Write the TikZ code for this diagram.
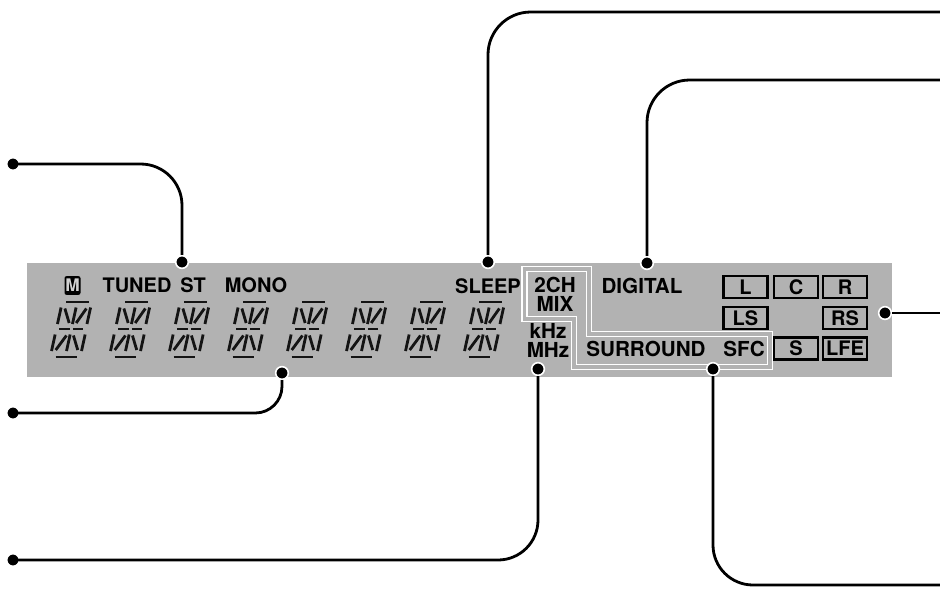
\documentclass[tikz,border=0pt]{standalone}
\usepackage{fontspec}
\setmainfont{TeX Gyre Heros}
\newcommand\dseg[4]{\draw[seg] ({\xo+#1+0.22*#2},{357-#2}) -- ({\xo+#3+0.22*#4},{357-#4});}
\begin{document}
\begin{tikzpicture}[x=0.75pt,y=-0.75pt,
  lbl/.style={font=\bfseries\fontsize{15}{15}\selectfont,inner sep=0pt,text=black},
  lblbig/.style={font=\bfseries\fontsize{15.5}{16}\selectfont,inner sep=0pt,text=black},
  chbox/.style={draw=black,line width=1.9pt,minimum width=33pt,minimum height=16.5pt,inner sep=0pt,
    font=\bfseries\fontsize{15}{15}\selectfont},
  seg/.style={line width=2.1pt,line cap=butt,draw=black!92},
  conn/.style={line width=2.1pt,draw=black},
  dot/.style={circle,fill=black,draw=white,line width=1.2pt,minimum size=9.5pt,inner sep=0pt},
  outline/.style={draw=white,line width=1.1pt,double=panelgray,double distance=2.4pt}
]
\definecolor{panelgray}{gray}{0.70}
\useasboundingbox (0,0) rectangle (940,601);
% panel
\fill[panelgray] (27,263) rectangle (892,377);
% white double outline
\draw[outline] (524.5,269) -- (589,269) -- (589,334) -- (770,334) -- (770,367)
  -- (574,367) -- (574,319) -- (524.5,319) -- cycle;
% digits (u across, v up from the bottom bar)
\foreach \i in {0,...,7}{
  \pgfmathsetmacro{\xo}{50.2+59*\i}
  \dseg{5.5}{0}{27}{0}
  \dseg{3.7}{55}{26.7}{55}
  \dseg{3}{28}{13.5}{28}
  \dseg{16.5}{28}{27}{28}
  \dseg{0}{6}{0}{22.5}
  \dseg{15}{6}{15}{22.5}
  \dseg{30}{6}{30}{22.5}
  \dseg{4}{7}{11.5}{21.5}
  \dseg{18.5}{21.5}{26}{7}
  \dseg{0}{33}{0}{49.5}
  \dseg{15}{33}{15}{49.5}
  \dseg{29.5}{33}{29.5}{49.5}
  \dseg{4}{48.5}{11.5}{34}
  \dseg{18.5}{34}{25.5}{48.5}
}
% labels
\node[fill=black,rounded corners=1.5pt,minimum width=12pt,minimum height=14pt,inner sep=0pt,
  text=panelgray!60,font=\bfseries\fontsize{13}{13}\selectfont] (m) at (72.5,285.5) {M};
\node[lbl] (tuned) at (137,285.5) {TUNED};
\node[lbl] (st) at (193,285.5) {ST};
\node[lbl] (mono) at (256,285.5) {MONO};
\node[lbl] (sleep) at (488,286) {SLEEP};
\node[lblbig] (ch2) at (555,284.5) {2CH};
\node[lblbig] (mix) at (555,303.5) {MIX};
\node[lblbig] (khz) at (548,331) {kHz};
\node[lblbig] (mhz) at (548,350) {MHz};
\node[lblbig] (digital) at (642,285.5) {DIGITAL};
\node[lblbig] (surround) at (646,349) {SURROUND};
\node[lblbig] (sfc) at (744,349) {SFC};
% channel boxes
\node[chbox] (bl) at (745.5,287) {L};
\node[chbox] (bc) at (796,287) {C};
\node[chbox] (br) at (845,287) {R};
\node[chbox] (bls) at (745.5,318) {LS};
\node[chbox] (brs) at (845,318) {RS};
\node[chbox] (bs) at (796,348.5) {S};
\node[chbox] (blfe) at (845,348.5) {LFE};
% connector end points
\node[dot] (dlt) at (13,164) {};
\node[dot] (dst) at (182,262) {};
\node[dot] (dlm) at (13,413) {};
\node[dot] (ddig) at (282,373) {};
\node[dot] (dlb) at (13,560) {};
\node[dot] (dmhz) at (538,369) {};
\node[dot] (dsleep) at (488,262) {};
\node[dot] (ddigital) at (647,263) {};
\node[dot] (dsur) at (713,369) {};
\node[dot] (dch) at (885,313) {};
\coordinate (esleep) at (940,12);
\coordinate (edigital) at (940,80);
\coordinate (esur) at (940,585);
\coordinate (ech) at (940,313);
% connectors
\draw[conn,rounded corners=31pt] (dlt.center) -| (dst.north);
\draw[conn,rounded corners=20pt] (dlm.center) -| (ddig.south);
\draw[conn,rounded corners=30pt] (dlb.center) -| (dmhz.south);
\draw[conn,rounded corners=32pt] (dsleep.north) |- (esleep);
\draw[conn,rounded corners=32pt] (ddigital.north) |- (edigital);
\draw[conn,rounded corners=30pt] (dsur.south) |- (esur);
\draw[conn] (dch.east) -- (ech);
\end{tikzpicture}
\end{document}
